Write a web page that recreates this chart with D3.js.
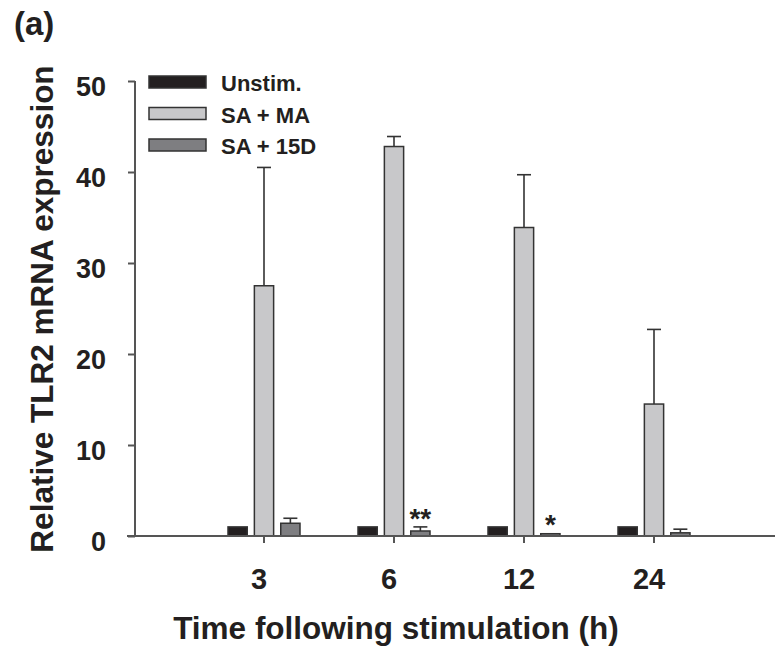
<!DOCTYPE html>
<html><head><meta charset="utf-8">
<script src="https://cdn.jsdelivr.net/npm/d3@7"></script>
<style>body{margin:0;background:#fff}svg text{font-family:"Liberation Sans",Arial,sans-serif;font-weight:bold;fill:#231f20}</style>
</head><body><svg id="c" width="775" height="652"></svg>
<script>
const times = ["3","6","12","24"];
const series = ["Unstim.","SA + MA","SA + 15D"];
const unstim = [1.0,1.0,1.0,1.0];
const saMA = [27.5,42.8,33.9,14.5];
const saMAerr = [13.0,1.1,5.8,8.2];
const sa15D = [1.4,0.55,0.25,0.35];
const sa15Derr = [0.55,0.45,0.05,0.4];
const signif = ["","**","*",""];
const yTicks = [0,10,20,30,40,50];
const colors = ["#231f20","#c8c8ca","#7e7e81"];

const values = [unstim, saMA, sa15D];
const errs = [null, saMAerr, sa15Derr];

const svg = d3.select("#c");
const x0 = d3.scaleBand().domain(times).range([199,719]).paddingInner(0).paddingOuter(0);
const x1 = d3.scaleBand().domain(series).range([-36,36]).paddingInner(0.27);
const y = d3.scaleLinear().domain([0,50]).range([536,81]);
const axisColor = "#555";

// bars
series.forEach((s,si)=>{
  const g = svg.append("g");
  times.forEach((t,ti)=>{
    const cx = x0(t)+x0.bandwidth()/2;
    const v = values[si][ti];
    const bx = cx + x1(s);
    if (errs[si]) {
      const e = errs[si][ti];
      if (e > 0.08) {
        g.append("line").attr("x1",bx+x1.bandwidth()/2).attr("x2",bx+x1.bandwidth()/2)
          .attr("y1",y(v)).attr("y2",y(v+e)).attr("stroke","#333").attr("stroke-width",1.6);
        g.append("line").attr("x1",bx+x1.bandwidth()/2-7).attr("x2",bx+x1.bandwidth()/2+7)
          .attr("y1",y(v+e)).attr("y2",y(v+e)).attr("stroke","#333").attr("stroke-width",1.6);
      }
    }
    g.append("rect").attr("x",bx).attr("width",x1.bandwidth())
      .attr("y",y(v)).attr("height",y(0)-y(v))
      .attr("fill",colors[si]).attr("stroke","#333").attr("stroke-width",1.5);
  });
});

// significance
times.forEach((t,ti)=>{
  if(!signif[ti]) return;
  const cx = x0(t)+x0.bandwidth()/2 + x1("SA + 15D") + x1.bandwidth()/2;
  const top = y(sa15D[ti]+sa15Derr[ti]);
  svg.append("text").attr("x",cx).attr("y",top+1).attr("text-anchor","middle")
    .style("font-size","28px").text(signif[ti]);
});

// y axis
const yAxis = d3.axisLeft(y).tickValues(yTicks).tickSize(7).tickPadding(22);
const ya = svg.append("g").attr("transform","translate(135,0)").call(yAxis);
ya.select(".domain").attr("stroke",axisColor).attr("stroke-width",2).attr("d","M0,"+y(50)+"V"+y(0));
ya.selectAll(".tick line").attr("stroke",axisColor).attr("stroke-width",2);
ya.selectAll(".tick text").style("font-size","27px").attr("dy","0.55em").attr("fill","#231f20");

// x axis
const xAxis = d3.axisBottom(x0).tickSize(7).tickPadding(25);
const xa = svg.append("g").attr("transform","translate(0,536)").call(xAxis);
xa.select(".domain").remove();
xa.append("line").attr("x1",127).attr("x2",775).attr("y1",0).attr("y2",0).attr("stroke",axisColor).attr("stroke-width",2);
xa.selectAll(".tick line").attr("stroke",axisColor).attr("stroke-width",2);
xa.selectAll(".tick text").style("font-size","29px").attr("dx","-5").attr("fill","#231f20");

// titles
svg.append("text").attr("transform","translate(53,309) rotate(-90)").attr("text-anchor","middle")
  .style("font-size","31.5px").text("Relative TLR2 mRNA expression");
svg.append("text").attr("x",396).attr("y",639).attr("text-anchor","middle")
  .style("font-size","31.5px").text("Time following stimulation (h)");
svg.append("text").attr("x",14).attr("y",35).style("font-size","33px").text("(a)");

// legend
const lg = svg.append("g");
series.forEach((s,i)=>{
  const yy = 76 + i*31.5;
  lg.append("rect").attr("x",149).attr("y",yy).attr("width",57).attr("height",12)
    .attr("fill",colors[i]).attr("stroke","#333").attr("stroke-width",1.5);
  lg.append("text").attr("x",221).attr("y",yy+15).style("font-size","22px").text(s);
});
</script></body></html>
